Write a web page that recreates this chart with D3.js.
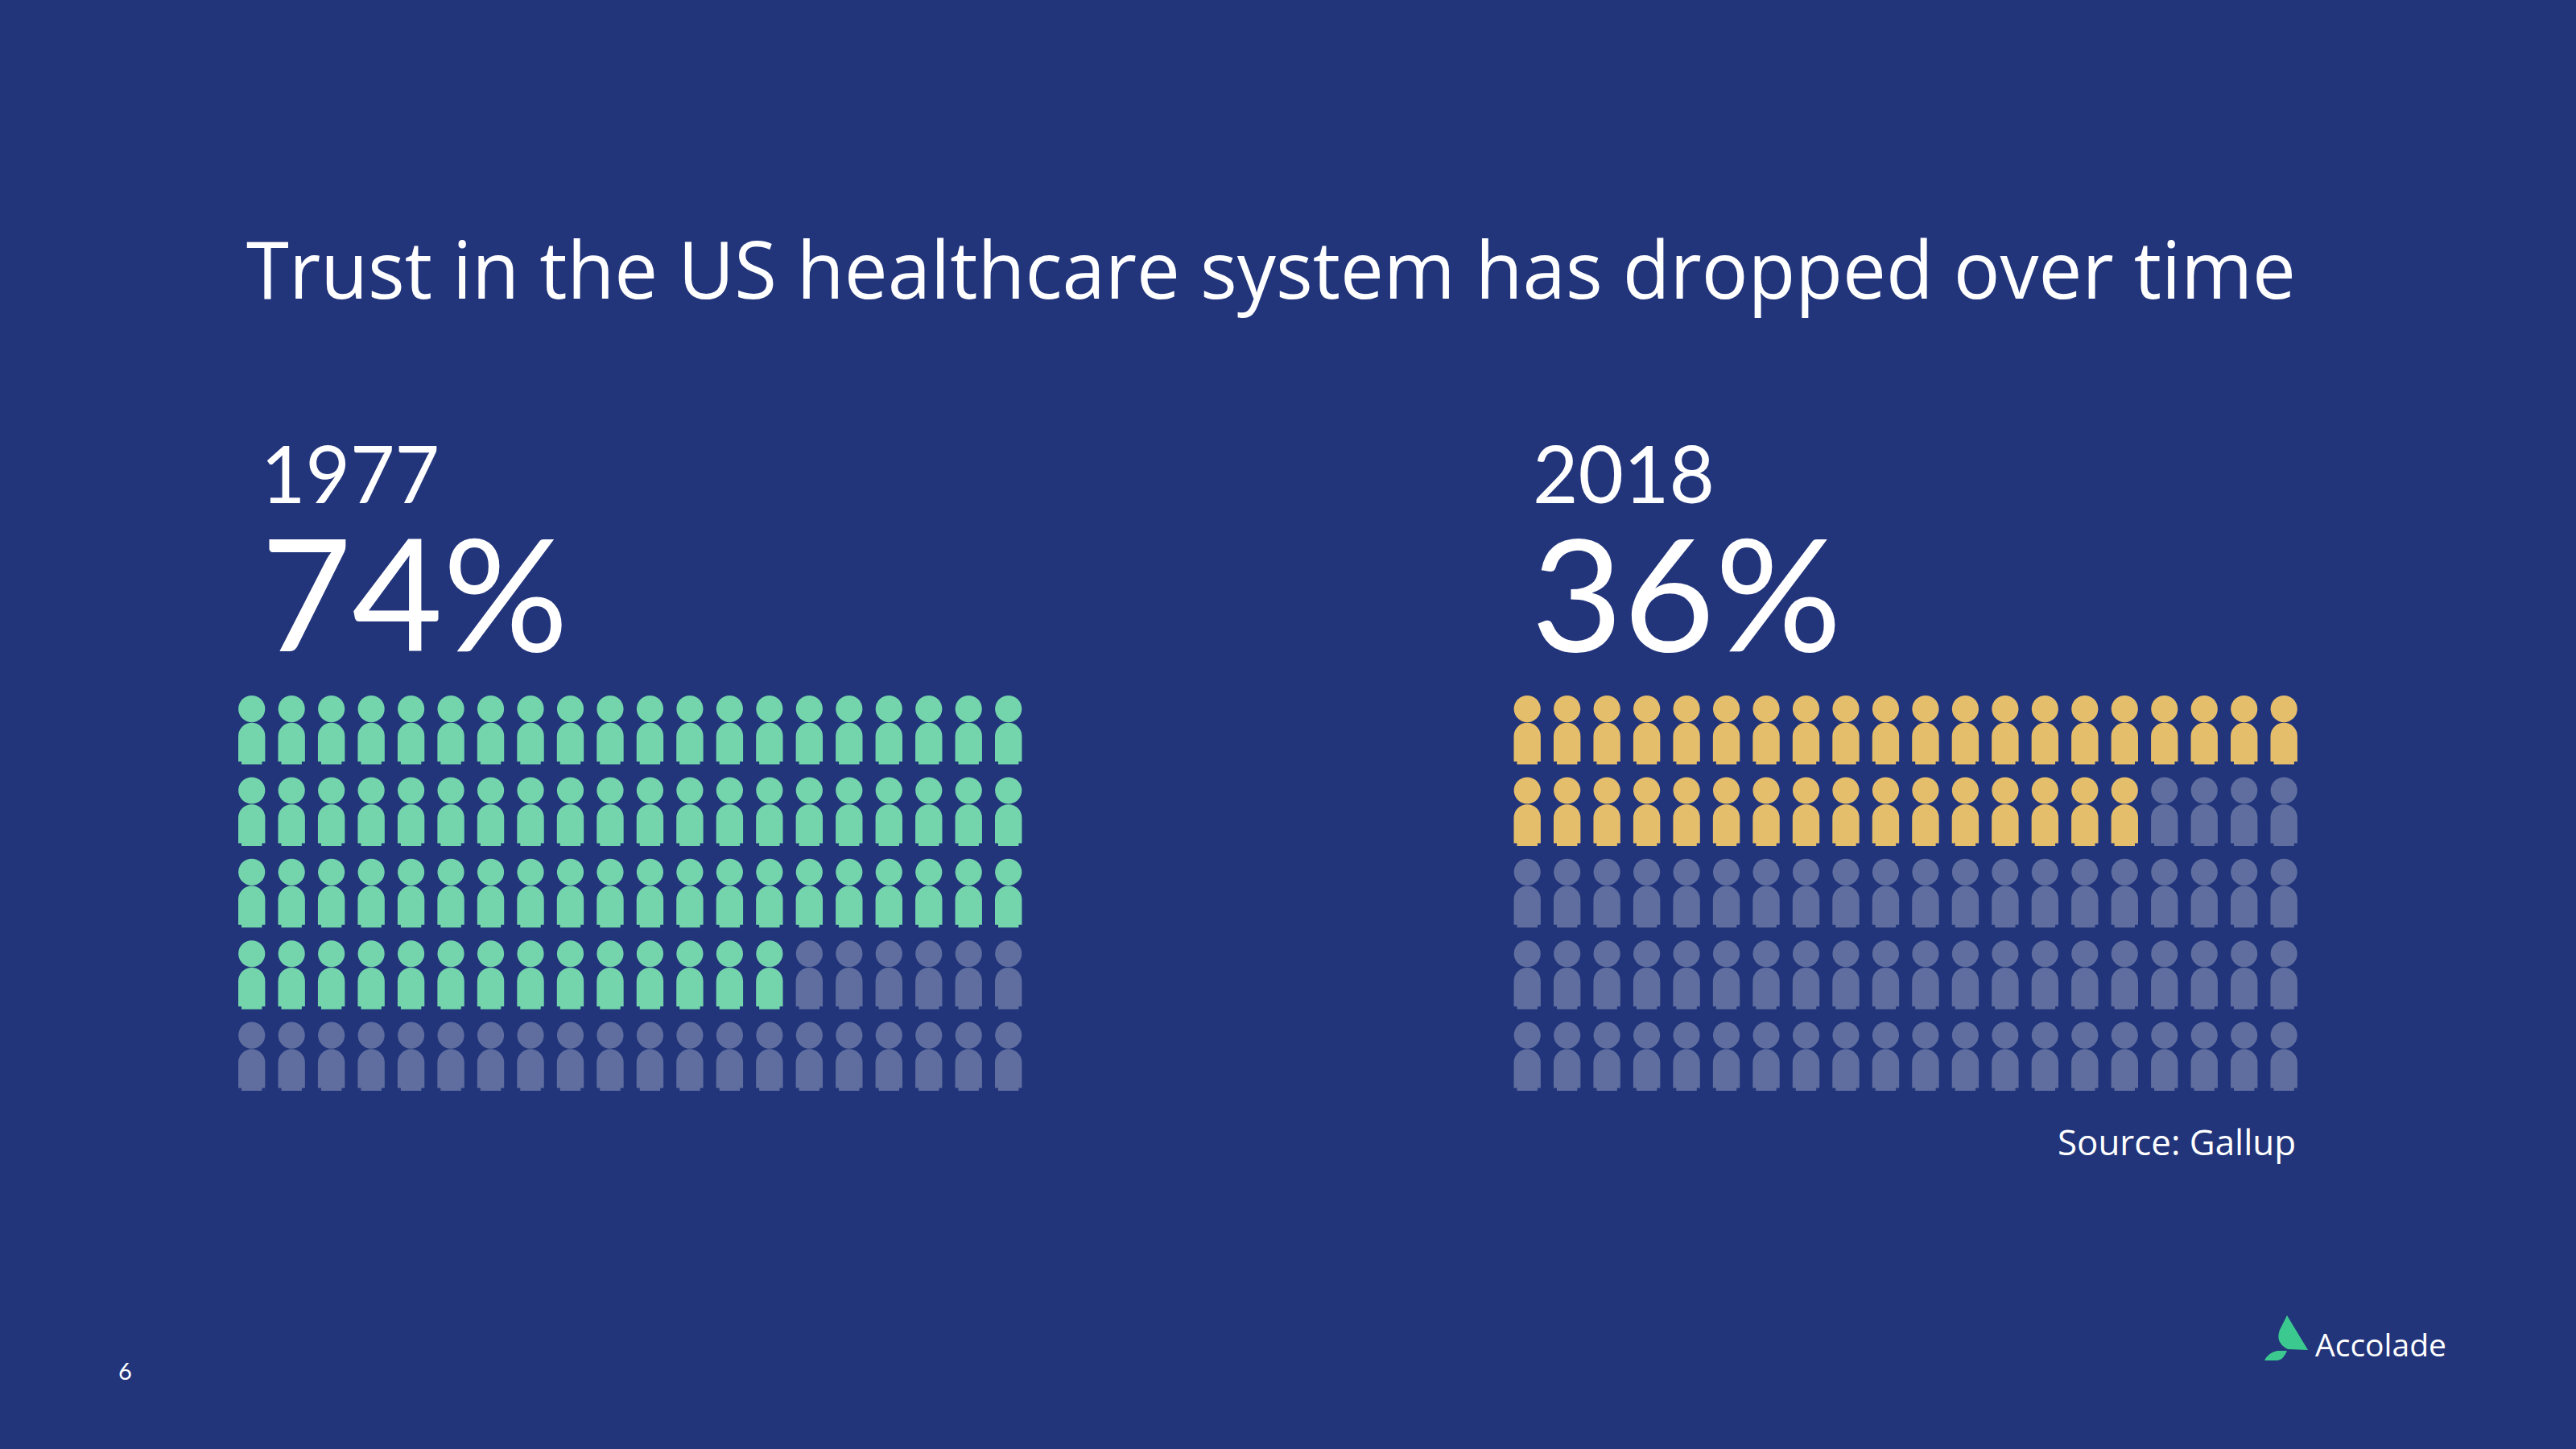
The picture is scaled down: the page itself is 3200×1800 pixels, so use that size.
<!DOCTYPE html>
<html><head><meta charset="utf-8">
<script src="https://cdn.jsdelivr.net/npm/d3@7"></script>
<style>html,body{margin:0;padding:0;background:#22357B}svg{display:block}text{fill:#fff;font-family:"Open Sans",sans-serif;font-variant-ligatures:none}</style>
</head><body><svg id="c" width="3200" height="1800"></svg>
<script>
const title = "Trust in the US healthcare system has dropped over time";
const years = ["1977", "2018"];
const trustPercent = [74, 36];
const filledColors = ["#74D5AC", "#E5BE6C"];
const emptyColor = "#5F6E9F";
const rowIndex = [0,1,2,3,4];
const colIndex = d3.range(20);
const source = "Source: Gallup";
const pageNumber = "6";
const brand = "Accolade";

const svg = d3.select("#c");
svg.append("rect").attr("width",3200).attr("height",1800).attr("fill","#22357B");

const iconW = 33.4, headR = 16.6;
const groupX = d3.scalePoint().domain(years).range([296, 1880.5]);
const colX = d3.scaleLinear().domain([0,19]).range([0, 940]);
const rowY = d3.scaleLinear().domain([0,4]).range([864, 1269.5]);

function icon(g){
  const w=iconW, r=w/2, top=headR*2+0.6, sh=top+48.2, ft=sh+3.6, ins=4;
  g.append("circle").attr("cx",r).attr("cy",headR).attr("r",headR);
  const p=d3.path();
  p.moveTo(0,sh); p.lineTo(0,top+r); p.arc(r,top+r,r,Math.PI,0);
  p.lineTo(w,sh); p.lineTo(w-ins,sh); p.lineTo(w-ins,ft); p.lineTo(ins,ft); p.lineTo(ins,sh); p.closePath();
  g.append("path").attr("d",p.toString());
}

years.forEach((y,i)=>{
  const g=svg.append("g").attr("transform",`translate(${groupX(y)},0)`);
  const cells=d3.cross(rowIndex,colIndex).map(([r,c],k)=>({r,c,k}));
  g.selectAll("g.p").data(cells).join("g").attr("class","p")
    .attr("transform",d=>`translate(${colX(d.c)},${rowY(d.r)})`)
    .attr("fill",d=>d.k<trustPercent[i]?filledColors[i]:emptyColor)
    .each(function(){icon(d3.select(this));});
});

const txt=(s,x,y,fs,o={})=>{
  const t=svg.append("text").attr("x",x).attr("y",y).attr("font-size",fs).text(s);
  if(o.font) t.style("font-family",o.font);
  if(o.len) t.attr("textLength",o.len).attr("lengthAdjust","spacingAndGlyphs");
  if(o.anchor) t.attr("text-anchor",o.anchor);
  return t;
};
txt(title,306,371,98,{len:2546});
txt(years[0],324,625,99,{font:"Lato",len:222});
txt(trustPercent[0]+"%",324,809,195,{font:"Lato",len:382});
txt(years[1],1904,625,99,{font:"Lato",len:226});
txt(trustPercent[1]+"%",1902,809,195,{font:"Lato",len:386});
txt(source,2556,1435,43,{len:296});
txt(pageNumber,147,1714,29,{font:"Lato"});
txt(brand,2876,1685,39,{len:163});

const logo=svg.append("g").attr("fill","#3CC98F");
logo.append("path").attr("d","M2841,1634 L2867,1677 L2842,1676 Q2826,1668 2832,1652 Z");
logo.append("path").attr("d","M2813,1690 Q2818,1680 2829,1678 L2841,1678 Q2836,1690 2829,1690 Z");
</script></body></html>
